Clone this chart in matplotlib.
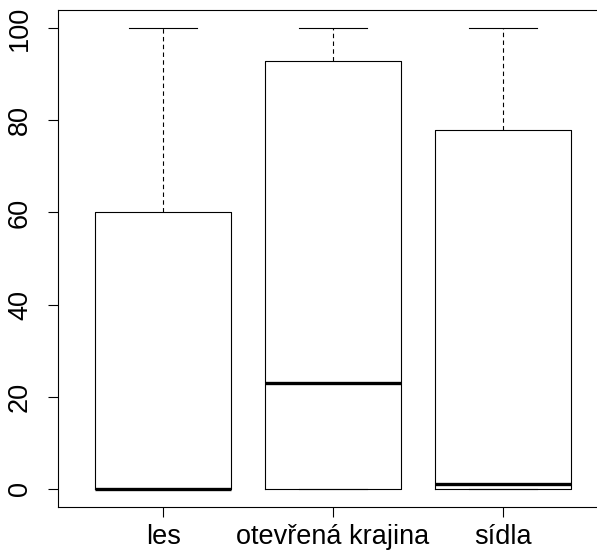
import matplotlib
matplotlib.use("Agg")
import matplotlib.pyplot as plt

# values
categories = ["les", "otevřená krajina", "sídla"]
q1 = [0, 0, 0]
medians = [0, 23, 1]
q3 = [60, 93, 78]
whis_lo = [0, 0, 0]
whis_hi = [100, 100, 100]
y_ticks = [0, 20, 40, 60, 80, 100]

plt.rcParams["font.family"] = ["Liberation Sans", "DejaVu Sans"]

fig = plt.figure(figsize=(5.97, 5.50), dpi=100)
W, H = 597, 550
# plot region in pixels: left 58, right ~608 (cropped), top 10, bottom 507
ax = fig.add_axes([58 / W, 1 - 507 / H, (608 - 58) / W, (507 - 10) / H])

stats = []
for i, name in enumerate(categories):
    stats.append(dict(label=name, q1=q1[i], med=medians[i], q3=q3[i],
                      whislo=whis_lo[i], whishi=whis_hi[i], fliers=[]))

ax.bxp(stats, positions=[1, 2, 3], widths=0.8, showfliers=False,
       boxprops=dict(color="black", linewidth=0.8),
       medianprops=dict(color="black", linewidth=2.4, solid_capstyle="butt"),
       whiskerprops=dict(color="black", linewidth=0.8, linestyle=(0, (4, 3))),
       capprops=dict(color="black", linewidth=0.8),
       capwidths=0.4)

ax.set_xlim(0.38, 3.62)
ax.set_ylim(-4, 104)
ax.set_yticks(y_ticks)
ax.set_yticklabels([str(v) for v in y_ticks], rotation=90, va="center")
ax.set_xticks([1, 2, 3])
ax.set_xticklabels(categories)
ax.tick_params(axis="both", labelsize=19.5, length=7, width=0.8, direction="out")
ax.tick_params(axis="y", pad=11)
ax.tick_params(axis="x", pad=5)
for s in ax.spines.values():
    s.set_linewidth(0.8)

fig.savefig("out.png", dpi=100)
